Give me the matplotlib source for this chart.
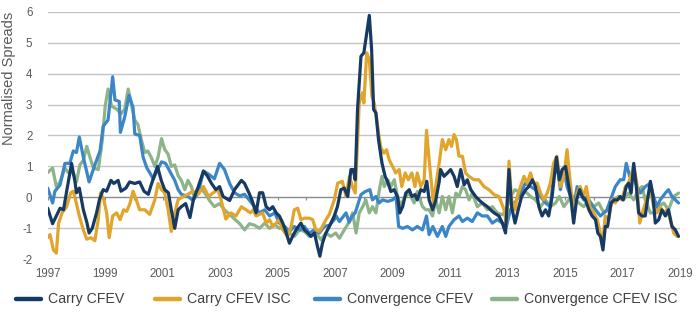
import matplotlib
matplotlib.use("Agg")
import matplotlib.pyplot as plt
from matplotlib.lines import Line2D

plt.rcParams['font.family'] = ['Liberation Sans', 'DejaVu Sans']

# ---------------- data ----------------
carry_years = [1997.0, 1997.17, 1997.3, 1997.43, 1997.55, 1997.66, 1997.83, 1997.95, 1998.0, 1998.1,
               1998.24, 1998.36, 1998.44, 1998.55, 1998.7, 1998.8, 1998.93, 1999.05, 1999.2, 1999.3,
               1999.45, 1999.55, 1999.72, 1999.85, 2000.03, 2000.2, 2000.35, 2000.5, 2000.6, 2000.82,
               2000.95, 2001.07, 2001.2, 2001.3, 2001.42, 2001.54, 2001.65, 2001.8, 2001.95, 2002.07,
               2002.24, 2002.42, 2002.55, 2002.7, 2002.85, 2002.98, 2003.1, 2003.33, 2003.5, 2003.74,
               2003.85, 2004.0, 2004.1, 2004.25, 2004.37, 2004.48, 2004.6, 2004.72, 2004.83, 2004.95,
               2005.06, 2005.18, 2005.3, 2005.41, 2005.52, 2005.64, 2005.81, 2005.93, 2006.05, 2006.16,
               2006.28, 2006.39, 2006.47, 2006.56, 2006.68, 2006.8, 2006.97, 2007.08, 2007.2, 2007.32,
               2007.44, 2007.55, 2007.63, 2007.7, 2007.78, 2007.9, 2008.0, 2008.1, 2008.19, 2008.27,
               2008.34, 2008.42, 2008.51, 2008.63, 2008.74, 2008.82, 2008.94, 2009.05, 2009.17, 2009.25,
               2009.35, 2009.46, 2009.58, 2009.67, 2009.78, 2009.86, 2009.98, 2010.1, 2010.19, 2010.27,
               2010.39, 2010.5, 2010.62, 2010.67, 2010.79, 2010.91, 2011.02, 2011.14, 2011.25, 2011.37,
               2011.49, 2011.6, 2011.72, 2011.89, 2012.0, 2012.12, 2012.3, 2012.41, 2012.53, 2012.7,
               2012.82, 2012.93, 2013.05, 2013.14, 2013.26, 2013.37, 2013.49, 2013.63, 2013.74, 2013.86,
               2013.97, 2014.09, 2014.2, 2014.32, 2014.43, 2014.55, 2014.7, 2014.8, 2014.9, 2015.02,
               2015.13, 2015.21, 2015.3, 2015.4, 2015.51, 2015.6, 2015.71, 2015.83, 2015.94, 2016.06,
               2016.14, 2016.23, 2016.32, 2016.4, 2016.48, 2016.6, 2016.71, 2016.83, 2016.92, 2017.02,
               2017.13, 2017.21, 2017.3, 2017.39, 2017.48, 2017.56, 2017.68, 2017.79, 2017.87, 2017.97,
               2018.06, 2018.14, 2018.26, 2018.37, 2018.49, 2018.6, 2018.72, 2018.84, 2018.95]
carry_vals = [-0.35, -0.85, -0.6, -0.35, -0.4, 0.2, 1.1, 0.5, 0.15, 0.3,
              -0.4, -0.8, -1.15, -1.0, -0.5, -0.07, 0.25, 0.2, 0.55, 0.45,
              0.55, 0.2, 0.3, 0.5, 0.45, 0.5, 0.2, 0.1, 0.4, 1.0,
              0.55, 0.25, 0.15, -0.4, -1.0, -0.4, -0.3, -0.2, -0.65, -0.07,
              0.35, 0.85, 0.7, 0.45, 0.25, 0.35, 0.03, -0.1, 0.25, 0.55,
              0.45, 0.15, -0.07, -0.5, 0.15, 0.15, -0.3, -0.4, -0.3, -0.5,
              -0.6, -0.83, -1.15, -1.48, -1.26, -1.05, -0.83, -1.05, -1.15, -1.26,
              -1.15, -1.6, -1.9, -1.48, -1.15, -0.94, -0.6, -0.3, 0.25, 0.3,
              0.03, 0.9, 0.9, 0.57, 2.84, 4.56, 4.67, 5.3, 5.88, 4.78,
              2.84, 2.73, 1.87, 1.11, 0.68, 0.52, 0.19, 0.25, 0.03, -0.5,
              -0.3, 0.14, 0.25, 0.03, 0.09, -0.08, 0.25, 0.19, 0.52, -0.08,
              -0.4, -0.1, 0.5, 0.9, 0.68, 0.79, 0.9, 0.68, 0.35, 0.9,
              0.41, 0.57, 0.25, 0.03, -0.08, -0.18, -0.3, -0.4, -0.5, -0.6,
              -0.83, -1.15, 0.9, -0.3, -0.83, -0.4, 0.03, 0.25, 0.35, 0.57,
              0.35, -0.3, -0.6, -0.4, -0.6, 0.03, 1.3, 0.57, 0.9, 1.0,
              0.35, -0.08, -0.83, -0.08, 0.25, 0.03, -0.08, -0.4, -0.6, -0.72,
              -1.15, -1.26, -1.7, -0.94, -0.94, -0.18, -0.08, -0.08, 0.03, -0.08,
              0.35, 0.46, 0.14, 1.1, 0.35, -0.5, -0.6, -0.6, -0.08, 0.52,
              0.03, -0.83, -0.72, -0.4, -0.6, -0.4, -0.94, -1.05, -1.26]

carry_isc_years = [1997.0, 1997.08, 1997.2, 1997.3, 1997.38, 1997.5, 1997.66, 1997.8, 1997.89, 1998.0,
                   1998.1, 1998.24, 1998.36, 1998.5, 1998.64, 1998.76, 1998.84, 1998.95, 1999.05, 1999.14,
                   1999.26, 1999.4, 1999.52, 1999.64, 1999.75, 1999.86, 1999.97, 2000.08, 2000.2, 2000.38,
                   2000.55, 2000.73, 2000.84, 2000.96, 2001.07, 2001.19, 2001.3, 2001.42, 2001.54, 2001.72,
                   2001.88, 2002.05, 2002.24, 2002.42, 2002.6, 2002.76, 2002.92, 2003.03, 2003.2, 2003.37,
                   2003.55, 2003.74, 2003.9, 2004.05, 2004.15, 2004.25, 2004.48, 2004.6, 2004.72, 2004.83,
                   2004.95, 2005.06, 2005.18, 2005.35, 2005.47, 2005.58, 2005.7, 2005.81, 2005.93, 2006.1,
                   2006.22, 2006.33, 2006.45, 2006.56, 2006.68, 2006.8, 2006.97, 2007.09, 2007.25, 2007.38,
                   2007.5, 2007.6, 2007.7, 2007.84, 2007.95, 2008.0, 2008.1, 2008.19, 2008.28, 2008.36,
                   2008.48, 2008.59, 2008.7, 2008.79, 2008.88, 2009.0, 2009.11, 2009.23, 2009.32, 2009.44,
                   2009.55, 2009.67, 2009.78, 2009.86, 2009.98, 2010.1, 2010.18, 2010.27, 2010.42, 2010.5,
                   2010.62, 2010.73, 2010.85, 2010.96, 2011.05, 2011.14, 2011.22, 2011.31, 2011.43, 2011.54,
                   2011.66, 2011.83, 2012.0, 2012.18, 2012.35, 2012.53, 2012.7, 2012.88, 2012.96, 2013.05,
                   2013.14, 2013.26, 2013.34, 2013.45, 2013.57, 2013.68, 2013.8, 2013.91, 2014.03, 2014.15,
                   2014.26, 2014.38, 2014.49, 2014.6, 2014.72, 2014.84, 2014.96, 2015.07, 2015.16, 2015.25,
                   2015.33, 2015.42, 2015.53, 2015.64, 2015.74, 2015.86, 2016.0, 2016.12, 2016.23, 2016.32,
                   2016.4, 2016.52, 2016.63, 2016.75, 2016.86, 2016.98, 2017.1, 2017.21, 2017.39, 2017.5,
                   2017.6, 2017.72, 2017.83, 2017.97, 2018.08, 2018.2, 2018.31, 2018.43, 2018.55, 2018.66,
                   2018.78, 2018.9]
carry_isc_vals = [-1.3, -1.2, -1.7, -1.8, -0.83, -0.5, -0.3, 0.15, 0.2, -0.2,
                  -0.6, -1.05, -1.35, -1.3, -1.4, -0.7, 0.15, -0.07, -0.5, -1.3,
                  -0.6, -0.5, -0.72, -0.4, -0.45, -0.2, 0.2, -0.07, -0.4, -0.4,
                  -0.55, -0.07, 0.45, 0.25, 0.15, -0.4, -1.1, -0.5, -0.07, 0.03,
                  0.1, 0.2, 0.1, 0.35, 0.03, 0.15, 0.25, -0.07, -0.7, -0.5,
                  -0.6, -0.3, -0.4, -0.5, -0.4, -0.6, -0.5, -0.83, -0.72, -0.94,
                  -0.83, -0.72, -1.05, -1.26, -0.94, -0.4, -0.35, -0.72, -0.67, -0.67,
                  -0.72, -1.05, -1.1, -0.94, -0.72, -0.55, -0.08, 0.46, 0.52, 0.03,
                  0.68, 0.35, 0.14, 3.05, 3.38, 3.05, 4.67, 4.45, 3.27, 3.05,
                  2.3, 1.6, 1.43, 1.54, 1.22, 1.0, 0.79, 0.9, 0.35, 0.79,
                  0.57, 0.79, 0.35, 0.79, 0.35, 0.57, 2.17, 1.22, -0.2, 0.35,
                  1.1, 1.87, 1.54, 1.87, 1.65, 2.03, 1.87, 1.33, 1.33, 0.79,
                  0.68, 0.57, 0.57, 0.35, 0.25, 0.09, 0.03, -0.4, -0.88, 1.17,
                  -0.08, -0.4, 0.03, 0.35, 0.68, 0.46, 0.79, 0.46, 0.46, 0.14,
                  -0.08, 0.14, 0.46, 1.1, 1.33, 0.35, 0.68, 1.54, 0.68, -0.08,
                  -0.5, 0.14, 0.35, 0.03, 0.35, -0.3, -0.5, -0.72, -1.15, -1.37,
                  -0.6, -0.72, -0.08, -0.18, 0.03, -0.08, 0.35, 0.46, 1.0, 0.46,
                  -0.83, -0.4, -0.08, 0.25, -0.3, -0.5, -0.3, -0.5, -0.4, -0.72,
                  -1.15, -1.26]

conv_years = [1997.0, 1997.17, 1997.25, 1997.43, 1997.6, 1997.77, 1997.89, 1998.0, 1998.1, 1998.24,
              1998.44, 1998.64, 1998.82, 1998.93, 1999.1, 1999.26, 1999.34, 1999.49, 1999.53, 1999.68,
              1999.83, 1999.97, 2000.03, 2000.2, 2000.32, 2000.45, 2000.55, 2000.67, 2000.8, 2000.96,
              2001.1, 2001.42, 2001.54, 2001.65, 2001.88, 2002.06, 2002.24, 2002.42, 2002.6, 2002.8,
              2002.98, 2003.15, 2003.33, 2003.5, 2003.68, 2003.85, 2004.0, 2004.2, 2004.37, 2004.55,
              2004.72, 2004.9, 2005.06, 2005.24, 2005.41, 2005.58, 2005.76, 2005.93, 2006.1, 2006.28,
              2006.45, 2006.62, 2006.8, 2006.97, 2007.04, 2007.15, 2007.3, 2007.38, 2007.49, 2007.6,
              2007.7, 2007.9, 2008.05, 2008.21, 2008.3, 2008.42, 2008.53, 2008.65, 2008.83, 2009.0,
              2009.12, 2009.21, 2009.35, 2009.52, 2009.69, 2009.86, 2010.04, 2010.18, 2010.27, 2010.4,
              2010.56, 2010.73, 2010.85, 2010.96, 2011.14, 2011.31, 2011.43, 2011.6, 2011.77, 2011.95,
              2012.12, 2012.3, 2012.47, 2012.64, 2012.82, 2012.96, 2013.1, 2013.26, 2013.45, 2013.62,
              2013.8, 2013.97, 2014.15, 2014.32, 2014.49, 2014.6, 2014.73, 2014.84, 2014.96, 2015.07,
              2015.19, 2015.3, 2015.42, 2015.53, 2015.65, 2015.77, 2015.88, 2016.06, 2016.23, 2016.35,
              2016.46, 2016.58, 2016.75, 2016.92, 2017.04, 2017.13, 2017.25, 2017.39, 2017.5, 2017.62,
              2017.79, 2017.97, 2018.08, 2018.2, 2018.31, 2018.49, 2018.6, 2018.72, 2018.84, 2018.95]
conv_vals = [0.3, -0.18, 0.2, 0.4, 1.1, 1.1, 1.5, 1.45, 1.95, 1.3,
             0.5, 1.05, 1.5, 2.3, 2.5, 3.9, 3.15, 3.1, 2.1, 2.6,
             3.3, 2.9, 2.05, 2.0, 1.3, 0.95, 0.8, 0.6, 0.85, 1.15,
             1.1, 0.55, 0.25, 0.1, 0.03, -0.1, 0.15, 0.85, 0.75, 0.6,
             1.1, 0.9, 0.45, 0.15, 0.05, 0.1, -0.07, -0.3, -0.5, -0.4,
             -0.6, -0.5, -0.83, -0.94, -1.1, -0.94, -1.05, -0.94, -1.15, -1.05,
             -1.15, -0.94, -0.9, -0.72, -0.6, -0.78, -0.6, -0.5, -0.8, -0.6,
             -0.5, 0.09, 0.19, 0.25, -0.08, 0.03, -0.18, -0.08, -0.13, -0.08,
             0.03, -0.94, -1.0, -0.94, -1.05, -0.94, -1.05, -0.6, -1.2, -0.94,
             -1.26, -0.94, -1.26, -0.94, -0.72, -0.6, -0.78, -0.67, -0.78, -0.5,
             -0.6, -0.6, -0.83, -0.72, -0.83, -0.94, -0.4, -0.18, 0.14, 0.46,
             0.35, 0.25, 0.03, -0.18, -0.3, 0.68, 1.0, 0.25, 0.9, 0.35,
             0.03, -0.3, 0.35, 0.14, -0.08, 0.03, -0.18, -0.4, -0.6, -0.5,
             -0.4, -0.08, 0.35, 0.57, 0.57, 1.1, 0.68, 0.68, 0.35, 0.14,
             0.35, 0.46, 0.03, -0.3, -0.08, 0.14, 0.25, 0.03, -0.08, -0.18]

conv_isc_years = [1997.0, 1997.17, 1997.3, 1997.43, 1997.6, 1997.72, 1997.89, 1998.0, 1998.12, 1998.24,
                  1998.36, 1998.47, 1998.59, 1998.76, 1998.9, 1999.0, 1999.1, 1999.22, 1999.4, 1999.55,
                  1999.68, 1999.8, 1999.9, 2000.03, 2000.14, 2000.26, 2000.38, 2000.48, 2000.6, 2000.73,
                  2000.84, 2000.96, 2001.07, 2001.19, 2001.3, 2001.42, 2001.54, 2001.65, 2001.77, 2001.88,
                  2002.0, 2002.1, 2002.28, 2002.46, 2002.63, 2002.8, 2002.98, 2003.15, 2003.33, 2003.5,
                  2003.68, 2003.85, 2004.02, 2004.2, 2004.37, 2004.55, 2004.72, 2004.9, 2005.06, 2005.24,
                  2005.41, 2005.58, 2005.76, 2005.93, 2006.1, 2006.33, 2006.51, 2006.68, 2006.85, 2007.02,
                  2007.15, 2007.32, 2007.5, 2007.61, 2007.73, 2007.84, 2007.96, 2008.07, 2008.19, 2008.3,
                  2008.42, 2008.54, 2008.63, 2008.71, 2008.83, 2008.94, 2009.06, 2009.17, 2009.29, 2009.4,
                  2009.58, 2009.75, 2009.86, 2010.04, 2010.16, 2010.27, 2010.39, 2010.5, 2010.62, 2010.73,
                  2010.85, 2010.96, 2011.08, 2011.2, 2011.31, 2011.43, 2011.54, 2011.66, 2011.77, 2011.95,
                  2012.12, 2012.3, 2012.47, 2012.64, 2012.82, 2012.96, 2013.1, 2013.26, 2013.45, 2013.62,
                  2013.8, 2013.97, 2014.15, 2014.32, 2014.49, 2014.67, 2014.8, 2014.96, 2015.13, 2015.3,
                  2015.48, 2015.65, 2015.83, 2016.0, 2016.17, 2016.35, 2016.52, 2016.69, 2016.86, 2017.04,
                  2017.21, 2017.39, 2017.56, 2017.68, 2017.79, 2017.97, 2018.08, 2018.26, 2018.43, 2018.6,
                  2018.78, 2018.95]
conv_isc_vals = [0.8, 0.95, 0.35, 0.5, 0.95, 0.8, 0.8, 0.5, 1.05, 1.2,
                 1.65, 1.3, 0.95, 0.9, 1.85, 2.95, 3.5, 2.95, 2.85, 2.7,
                 2.85, 3.5, 3.05, 2.5, 2.35, 1.85, 1.45, 1.5, 1.3, 1.0,
                 1.3, 1.9, 1.55, 1.4, 1.0, 1.05, 0.7, 0.55, 0.25, 0.55,
                 0.35, 0.0, 0.35, 0.15, -0.1, -0.3, -0.2, -0.4, -0.55, -0.7,
                 -0.85, -1.05, -0.85, -0.9, -1.0, -0.83, -1.0, -0.88, -1.0, -0.94,
                 -1.15, -1.26, -1.05, -1.1, -1.26, -1.15, -1.37, -1.15, -1.26, -1.15,
                 -1.32, -1.05, -0.78, -0.5, -1.15, -0.5, -0.3, -0.08, -0.5, -0.3,
                 -0.5, 0.25, 0.68, 0.35, 0.57, 0.35, 0.57, 0.03, -0.3, -0.02,
                 0.14, -0.18, 0.19, -0.3, -0.4, -0.4, -0.6, -0.08, -0.5, 0.03,
                 -0.4, 0.03, -0.5, 0.14, 0.03, 0.35, 0.25, -0.08, 0.14, -0.3,
                 -0.18, -0.4, -0.3, -0.5, -0.56, -0.4, 0.03, 0.25, 0.14, 0.19,
                 0.03, -0.08, -0.3, -0.08, -0.3, -0.18, 0.03, -0.3, -0.08, 0.03,
                 -0.18, -0.3, -0.08, -0.3, -0.18, -0.5, -0.4, -0.08, 0.03, -0.08,
                 0.14, -0.08, 0.25, 0.35, -0.08, -0.5, -0.5, -0.3, -0.18, -0.4,
                 0.03, 0.14]

series_labels = ["Carry CFEV", "Carry CFEV ISC", "Convergence CFEV", "Convergence CFEV ISC"]
series_colors = ["#173a64", "#e0a52a", "#3b86c6", "#8db388"]
x_tick_years = list(range(1997, 2020, 2))
y_ticks = list(range(-2, 7))

# ---------------- figure ----------------
W, H = 700, 321
fig = plt.figure(figsize=(W / 100, H / 100), dpi=100)
left, right, top, bottom = 47.7, 680.0, 11.7, 259.3
ax = fig.add_axes([left / W, 1 - bottom / H, (right - left) / W, (bottom - top) / H])

ax.set_xlim(1997, 2019)
ax.set_ylim(-2, 6)

for y in y_ticks:
    if y == 0:
        continue
    ax.axhline(y, color="#c4c4c4", lw=1.0, zorder=1)
ax.axhline(0, color="#8a8a8a", lw=1.0, zorder=1.5)
# minor year ticks on the zero line
ax.vlines(list(range(1997, 2020)), -0.1, 0, color="#8a8a8a", lw=0.8, zorder=1.5)

data = [(carry_years, carry_vals), (carry_isc_years, carry_isc_vals),
        (conv_years, conv_vals), (conv_isc_years, conv_isc_vals)]
draw_order = [3, 2, 1, 0]
for i in draw_order:
    xs, ys = data[i]
    ax.plot(xs, ys, color=series_colors[i], lw=2.3, solid_joinstyle="round",
            solid_capstyle="round", zorder=3 + (3 - draw_order.index(i)) * 0 + (4 - i))

for s in ax.spines.values():
    s.set_visible(False)
ax.set_xticks(x_tick_years)
ax.set_xticklabels([str(y) for y in x_tick_years])
ax.set_yticks(y_ticks)
ax.set_yticklabels([str(y) for y in y_ticks])
ax.tick_params(axis="both", length=0, labelsize=8.3, colors="#595959")
ax.tick_params(axis="x", pad=6)
ax.tick_params(axis="y", pad=11)

fig.text(9 / W, 1 - 78 / H, "Normalised Spreads", rotation=90, ha="center", va="center",
         fontsize=10.5, color="#595959")

# legend (manual, like the source)
legend_y = 1 - 299 / H
line_starts = [16, 155, 315, 492]
for i, x0 in enumerate(line_starts):
    fig.add_artist(Line2D([x0 / W, (x0 + 25) / W], [legend_y, legend_y], color=series_colors[i],
                          lw=3.2, solid_capstyle="round"))
    fig.text((x0 + 32) / W, legend_y, series_labels[i], ha="left", va="center",
             fontsize=10.2, color="#404040")

fig.savefig("out.png", dpi=100)
